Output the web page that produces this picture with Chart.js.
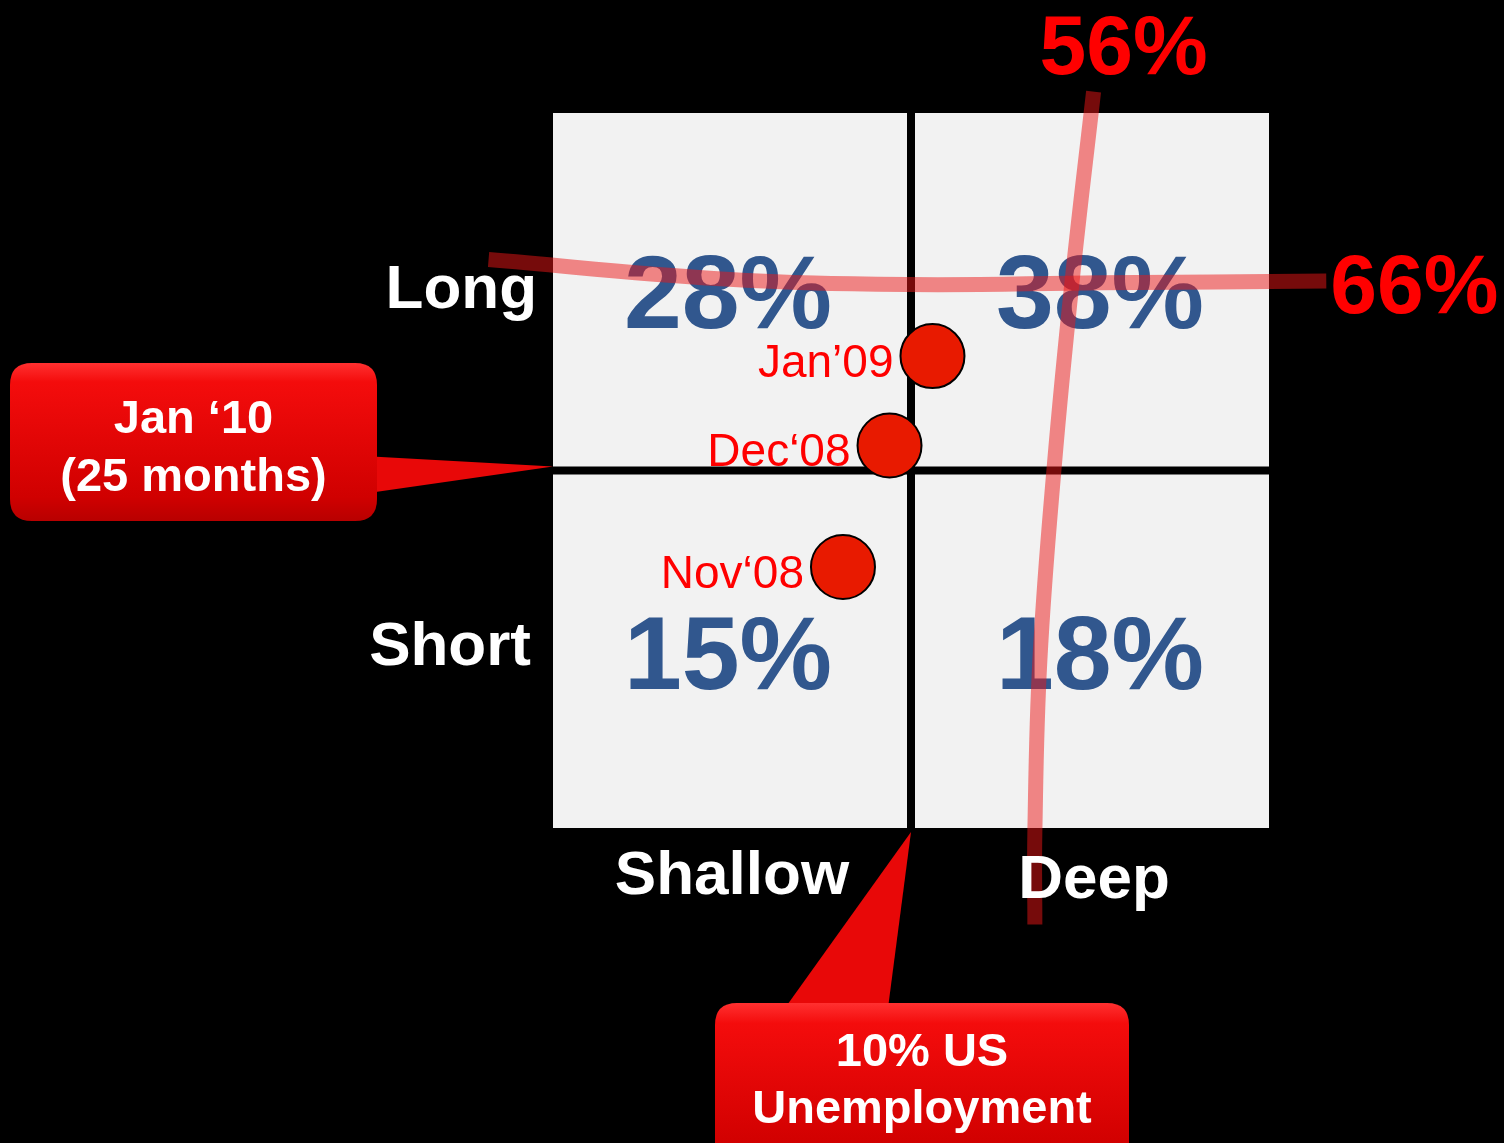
<!DOCTYPE html>
<html lang="en">
<head>
  <meta charset="UTF-8" />
  <title>Recession depth vs length</title>
  <script src="https://cdn.jsdelivr.net/npm/chart.js"></script>
  <style>
    html, body { margin: 0; padding: 0; background: #000; }
    #wrap { width: 1504px; height: 1143px; position: relative; }
  </style>
</head>
<body>
  <div id="wrap"><canvas id="matrix"></canvas></div>

  <script>
    // axes of the matrix: x = depth, y = length
    const depthCats = ['Shallow', 'Deep'];
    const lengthCats = ['Short', 'Long'];
    // share of recessions in each cell, rows = lengthCats, cols = depthCats
    const cellShares = [[15, 18], [28, 38]];

    // monthly readings plotted on the matrix
    const months = ['Nov‘08', 'Dec‘08', 'Jan’09'];
    const monthDepth = [0.81, 0.94, 1.06];
    const monthLength = [0.73, 1.07, 1.32];

    // hand drawn probability lines
    const lengthLineLabel = '66%';
    const lengthLineX = [-0.18, 0.47, 0.99, 1.53, 2.16];
    const lengthLineY = [1.59, 1.536, 1.52, 1.525, 1.53];
    const depthLineLabel = '56%';
    const depthLineX = [1.51, 1.45, 1.40, 1.36, 1.346, 1.346];
    const depthLineY = [2.06, 1.53, 1.01, 0.47, -0.01, -0.27];

    // thresholds between the cells
    const lengthThreshold = 1;
    const lengthNote = ['Jan ‘10', '(25 months)'];
    const depthThreshold = 1;
    const depthNote = ['10% US', 'Unemployment'];

    const FONT = '"Liberation Sans", Arial, sans-serif';
    const toPts = (xs, ys) => xs.map((x, i) => ({ x: x, y: ys[i] }));

    function roundRect(ctx, x, y, w, h, r) {
      ctx.beginPath();
      ctx.moveTo(x + r, y);
      ctx.lineTo(x + w - r, y);
      ctx.quadraticCurveTo(x + w, y, x + w, y + r);
      ctx.lineTo(x + w, y + h - r);
      ctx.quadraticCurveTo(x + w, y + h, x + w - r, y + h);
      ctx.lineTo(x + r, y + h);
      ctx.quadraticCurveTo(x, y + h, x, y + h - r);
      ctx.lineTo(x, y + r);
      ctx.quadraticCurveTo(x, y, x + r, y);
      ctx.closePath();
    }

    function callout(ctx, box, tri, lines, baselines) {
      ctx.save();
      // pointer
      ctx.fillStyle = '#e80808';
      ctx.beginPath();
      ctx.moveTo(tri[0][0], tri[0][1]);
      ctx.lineTo(tri[1][0], tri[1][1]);
      ctx.lineTo(tri[2][0], tri[2][1]);
      ctx.closePath();
      ctx.fill();
      // box with a soft bevel
      const g = ctx.createLinearGradient(0, box.y, 0, box.y + box.h);
      g.addColorStop(0, '#ff3030');
      g.addColorStop(0.12, '#f40c0c');
      g.addColorStop(0.85, '#d00000');
      g.addColorStop(1, '#b80000');
      ctx.fillStyle = g;
      roundRect(ctx, box.x, box.y, box.w, box.h, 22);
      ctx.fill();
      ctx.fillStyle = '#fff';
      ctx.font = 'bold 47px ' + FONT;
      ctx.textAlign = 'center';
      ctx.textBaseline = 'alphabetic';
      lines.forEach((t, i) => ctx.fillText(t, box.x + box.w / 2, baselines[i]));
      ctx.restore();
    }

    const matrixPlugin = {
      id: 'matrix',
      beforeDraw(chart) {
        const ctx = chart.ctx;
        ctx.save();
        ctx.fillStyle = '#000';
        ctx.fillRect(0, 0, chart.width, chart.height);
        ctx.restore();
      },
      beforeDatasetsDraw(chart) {
        const ctx = chart.ctx, xs = chart.scales.x, ys = chart.scales.y;
        ctx.save();
        for (let r = 0; r < lengthCats.length; r++) {
          for (let c = 0; c < depthCats.length; c++) {
            const l = xs.getPixelForValue(c) + (c > 0 ? 4 : 0);
            const rt = xs.getPixelForValue(c + 1) - (c < depthCats.length - 1 ? 4 : 0);
            const t = ys.getPixelForValue(r + 1) + (r < lengthCats.length - 1 ? 4 : 0);
            const b = ys.getPixelForValue(r) - (r > 0 ? 4 : 0);
            ctx.fillStyle = '#f2f2f2';
            ctx.fillRect(l, t, rt - l, b - t);
            ctx.fillStyle = '#31578e';
            ctx.font = 'bold 104px ' + FONT;
            ctx.textAlign = 'center';
            ctx.textBaseline = 'alphabetic';
            const cx = (l + rt) / 2 + (c > 0 ? 8 : -2);
            ctx.fillText(cellShares[r][c] + '%', cx, (t + b) / 2 + 38);
          }
        }
        ctx.restore();
      },
      afterDatasetsDraw(chart) {
        const ctx = chart.ctx, xs = chart.scales.x, ys = chart.scales.y;
        const area = chart.chartArea;
        ctx.save();
        // month labels
        const meta = chart.getDatasetMeta(0);
        ctx.fillStyle = '#ff0000';
        ctx.font = '46px ' + FONT;
        ctx.textAlign = 'right';
        ctx.textBaseline = 'alphabetic';
        meta.data.forEach((p, i) => ctx.fillText(months[i], p.x - 39, p.y + 21));

        // axis category labels
        ctx.fillStyle = '#fff';
        ctx.font = 'bold 62px ' + FONT;
        lengthCats.forEach((t, i) => ctx.fillText(t, area.left - 16 - (i ? 0 : 6), ys.getPixelForValue(i + 0.5) + 16));
        ctx.textAlign = 'center';
        depthCats.forEach((t, i) => ctx.fillText(t, xs.getPixelForValue(i + 0.5) + (i ? 4 : 0), area.bottom + 66 + (i ? 4 : 0)));

        // line end labels
        ctx.fillStyle = '#ff0000';
        ctx.font = 'bold 84px ' + FONT;
        const dTop = { x: xs.getPixelForValue(depthLineX[0]), y: ys.getPixelForValue(depthLineY[0]) };
        ctx.fillText(depthLineLabel, dTop.x + 30, dTop.y - 18);
        const n = lengthLineX.length - 1;
        const lEnd = { x: xs.getPixelForValue(lengthLineX[n]), y: ys.getPixelForValue(lengthLineY[n]) };
        ctx.textAlign = 'left';
        ctx.fillText(lengthLineLabel, lEnd.x + 4, lEnd.y + 32);
        ctx.restore();

        // threshold callouts
        const tipA = { x: xs.getPixelForValue(0), y: ys.getPixelForValue(lengthThreshold) - 4 };
        callout(ctx, { x: 10, y: 363, w: 367, h: 158 },
          [[tipA.x, tipA.y], [372, tipA.y - 10], [372, tipA.y + 26]],
          lengthNote, [433, 491]);
        const tipB = { x: xs.getPixelForValue(depthThreshold), y: area.bottom + 4 };
        callout(ctx, { x: 715, y: 1003, w: 414, h: 170 },
          [[tipB.x, tipB.y], [785, 1008], [888, 1008]],
          depthNote, [1066, 1123]);
      }
    };

    const lineStyle = {
      showLine: true,
      pointRadius: 0,
      borderWidth: 15,
      borderColor: 'rgba(236, 22, 22, 0.5)',
      tension: 0.4,
      clip: false
    };

    new Chart(document.getElementById('matrix'), {
      type: 'scatter',
      data: {
        datasets: [
          {
            label: 'Months',
            data: toPts(monthDepth, monthLength),
            pointRadius: 32,
            backgroundColor: '#e81a00',
            borderColor: '#000',
            borderWidth: 2,
            clip: false
          },
          Object.assign({ label: lengthLineLabel, data: toPts(lengthLineX, lengthLineY) }, lineStyle),
          Object.assign({ label: depthLineLabel, data: toPts(depthLineX, depthLineY) }, lineStyle)
        ]
      },
      options: {
        responsive: true,
        maintainAspectRatio: false,
        animation: false,
        events: [],
        layout: { padding: { left: 553, right: 235, top: 113, bottom: 315 } },
        scales: {
          x: { type: 'linear', min: 0, max: 2, display: false },
          y: { type: 'linear', min: 0, max: 2, display: false }
        },
        plugins: { legend: { display: false }, tooltip: { enabled: false } }
      },
      plugins: [matrixPlugin]
    });
  </script>
</body>
</html>
